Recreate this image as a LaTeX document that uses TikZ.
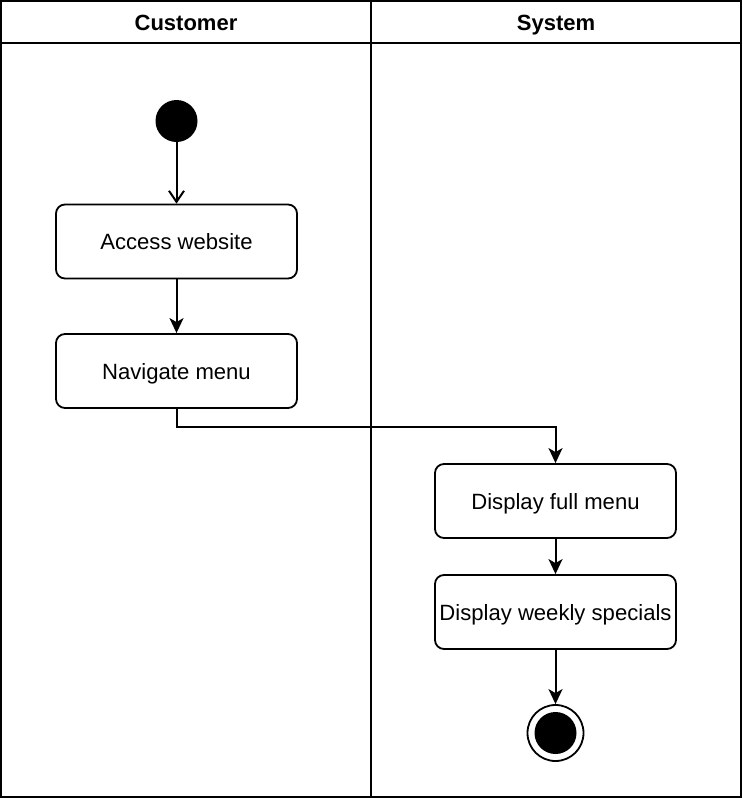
\documentclass[tikz,border=0pt]{standalone}
\usepackage{fontspec}
\setmainfont{Liberation Sans}
\usetikzlibrary{arrows.meta}
\begin{document}
\begin{tikzpicture}[x=1pt,y=-1pt,
  lane/.style={draw=black,line width=1.8pt},
  act/.style={draw=black,line width=1.8pt,rounded corners=9pt,minimum width=241pt,minimum height=74pt,inner sep=0pt,text height=18pt,text depth=2pt,font=\fontsize{22.1}{26}\selectfont,anchor=center},
  hdr/.style={inner sep=0pt,text height=18pt,text depth=2pt,font=\fontsize{22}{26}\selectfont\bfseries},
  flow/.style={draw=black,line width=2pt,-{Stealth[length=15pt,width=14pt,inset=4pt]}},
  openflow/.style={draw=black,line width=2pt,-{Straight Barb[length=11pt,width=15pt]}}
]
\useasboundingbox (0,0) rectangle (742,798);
% swimlanes
\draw[lane] (1,1) rectangle (741,797);
\draw[lane] (1,43) -- (741,43);
\draw[lane] (371,1) -- (371,797);
\node[hdr] (hc) at (186,22.5) {Customer};
\node[hdr] (hs) at (556,22.5) {System};
% nodes
\node[circle,fill=black,minimum size=42pt,inner sep=0pt] (start) at (176.5,121) {};
\node[act] (access) at (176.5,241.5) {Access website};
\node[act] (nav) at (176.5,371) {Navigate menu};
\node[act] (full) at (555.5,501) {Display full menu};
\node[act] (spec) at (555.5,612) {Display weekly specials};
\node[circle,draw=black,line width=1.8pt,minimum size=56pt,inner sep=0pt] (end) at (555.5,733) {};
\node[circle,fill=black,minimum size=42pt,inner sep=0pt] (endin) at (555.5,733) {};
% connectors
\draw[openflow] (start) -- (access);
\draw[flow] (access) -- (nav);
\coordinate (c1) at (176.5,427);
\coordinate (c2) at (555.5,427);
\draw[flow] (nav.south) -- (c1) -- (c2) -- (full.north);
\draw[flow] (full) -- (spec);
\draw[flow] (spec) -- (end);
\end{tikzpicture}
\end{document}
